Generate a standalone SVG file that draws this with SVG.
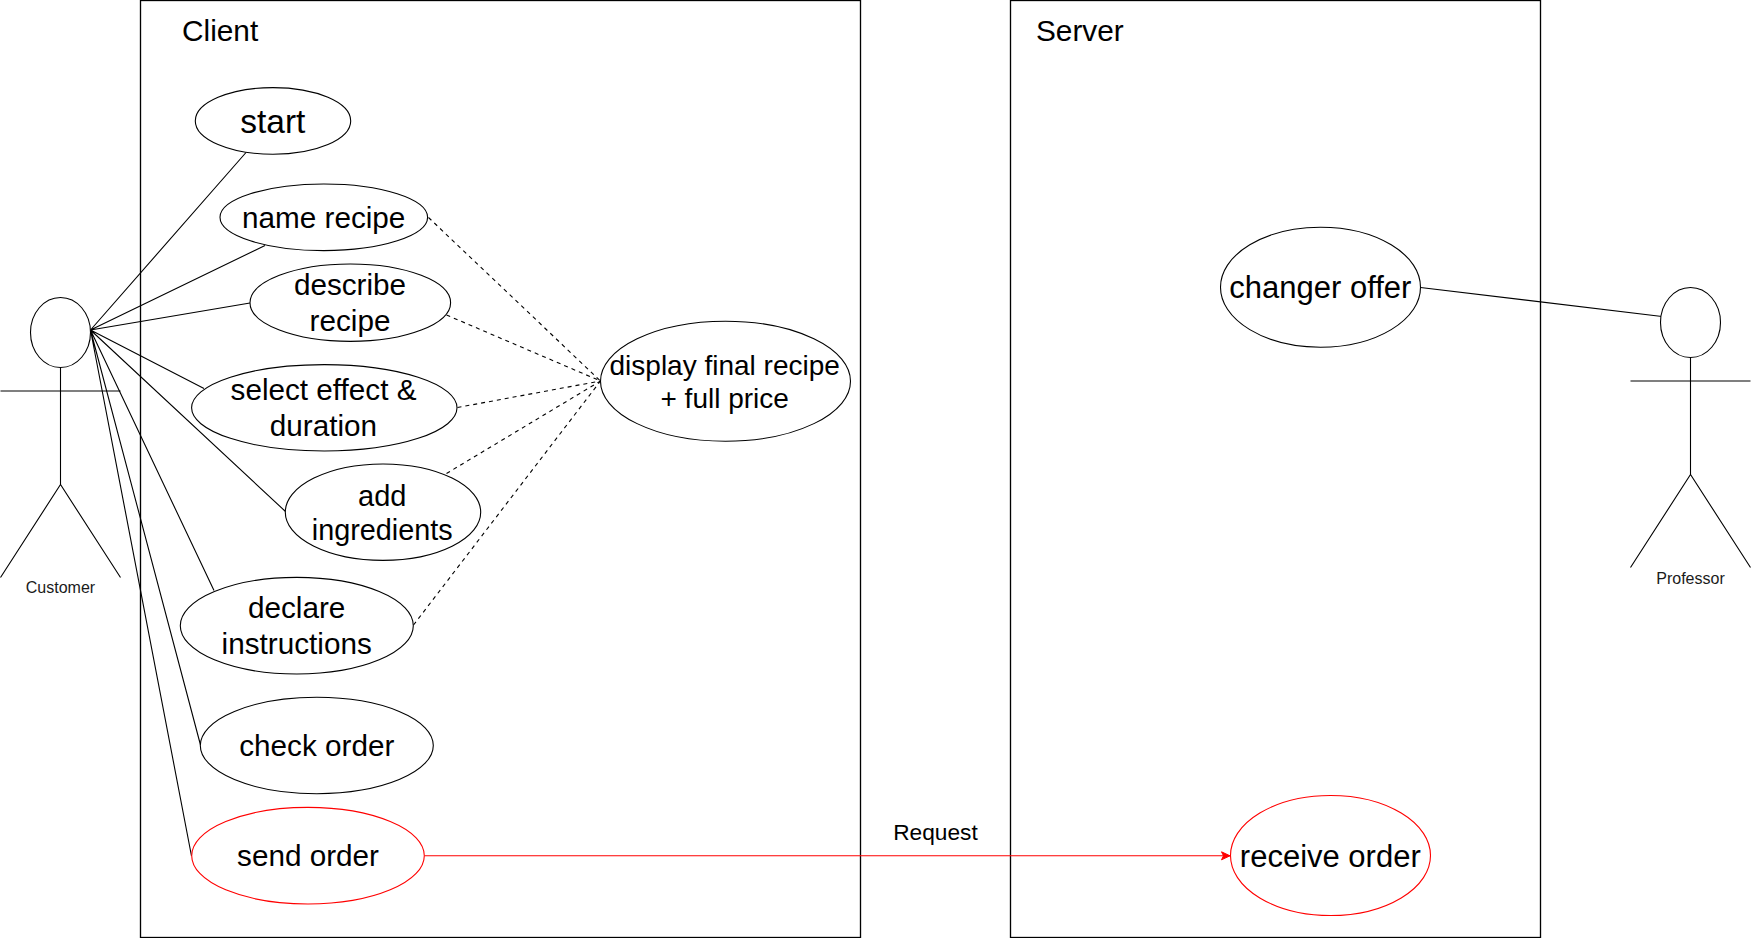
<svg xmlns="http://www.w3.org/2000/svg" width="1751" height="938" viewBox="0 0 1751 938">
<defs>
<style>
text{font-family:"Liberation Sans",Arial,sans-serif;fill:#000;text-anchor:middle}
.box{fill:#fff;stroke:#000;stroke-width:1.33}
.uc{fill:#fff;stroke:#000;stroke-width:1.1}
.red{stroke:#f00}
.actor{fill:none;stroke:#000;stroke-width:1.1}
.l{font-size:29.7px}
.title{font-size:29.8px;text-anchor:start}
.big{font-size:31px}
.small{font-size:16px;fill:#1a1a1a}
.conn{fill:none;stroke:#000;stroke-width:1.1}
.dash{stroke-dasharray:4 4}
.rl{stroke:#f00}
</style>
<marker id="arrow" markerUnits="userSpaceOnUse" markerWidth="10" markerHeight="10" refX="9" refY="5" orient="auto"><path d="M0.5 1 L9 5 L0.5 9 L2.5 5 Z" fill="#f00" stroke="#f00"/></marker>
</defs>
<rect width="1751" height="938" fill="#fff"/>
<g id="client"><rect class="box" x="140.5" y="0.5" width="720" height="937"/><text class="title" x="182" y="41">Client</text></g>
<g id="server"><rect class="box" x="1010.5" y="0.5" width="530" height="937"/><text class="title" x="1036" y="41">Server</text></g>
<g id="connectors">
<path class="conn" d="M90.5 330L246 152.5M90.5 330L265 245.5M90.5 330L250 303M90.5 330L204 388.5M90.5 330L285.5 511.5M90.5 330L214 590.5M90.5 330L200.5 745M90.5 330L191.5 856M1420.5 287.5L1662 316.5"/>
<path class="conn dash" d="M428.5 217.5L600.5 381M446.5 315L600.5 381M457.5 407.5L600.5 381M446.5 473.5L600.5 381M413.5 625L600.5 381"/>
<path class="conn rl" d="M424.5 855.8L1230 855.8" marker-end="url(#arrow)"/>
<text x="935.5" y="840" font-size="22.7">Request</text>
</g>
<g id="customer"><ellipse class="uc" cx="60.5" cy="332.5" rx="30" ry="35"/><path class="actor" d="M60.5 367.5V484.5M0.5 391H120.5M0.5 577.5L60.5 484.5L120.5 577.5"/><text class="small" x="60.5" y="593">Customer</text></g>
<g id="professor"><ellipse class="uc" cx="1690.5" cy="322.5" rx="30" ry="35"/><path class="actor" d="M1690.5 357.5V474.5M1630.5 381H1750.5M1630.5 567.5L1690.5 474.5L1750.5 567.5"/><text class="small" x="1690.5" y="584">Professor</text></g>
<g id="start"><ellipse class="uc" cx="273" cy="120.9" rx="77.7" ry="33.3"/><text x="272.8" y="133" font-size="33.5">start</text></g>
<g id="name-recipe"><ellipse class="uc" cx="323.8" cy="217.3" rx="103.8" ry="33.3"/><text class="l" x="323.7" y="228">name recipe</text></g>
<g id="describe-recipe"><ellipse class="uc" cx="350.3" cy="302.7" rx="100.3" ry="38.7"/><text class="l" x="350" y="294.6">describe</text><text class="l" x="350" y="330.5">recipe</text></g>
<g id="select-effect"><ellipse class="uc" cx="324.3" cy="407.8" rx="132.7" ry="43.2"/><text class="l" x="323.5" y="400">select effect &amp;</text><text class="l" x="323.5" y="436">duration</text></g>
<g id="add-ingredients"><ellipse class="uc" cx="383" cy="512.2" rx="97.7" ry="48.2"/><text x="382.2" y="506.3" font-size="29">add</text><text x="382.2" y="540.3" font-size="28.8">ingredients</text></g>
<g id="declare-instructions"><ellipse class="uc" cx="296.8" cy="625.7" rx="116.5" ry="48.3"/><text class="l" x="296.7" y="618.3">declare</text><text class="l" x="296.7" y="654.3">instructions</text></g>
<g id="check-order"><ellipse class="uc" cx="316.8" cy="745.5" rx="116.5" ry="48.2"/><text class="l" x="316.8" y="756" font-size="30">check order</text></g>
<g id="send-order"><ellipse class="uc red" cx="308" cy="855.7" rx="116.3" ry="48.3"/><text class="l" x="308" y="866">send order</text></g>
<g id="display-final"><ellipse class="uc" cx="725.5" cy="381.2" rx="125" ry="60"/><text x="724.7" y="375" font-size="28">display final recipe</text><text x="724.7" y="408" font-size="28">+ full price</text></g>
<g id="changer-offer"><ellipse class="uc" cx="1320.5" cy="287.2" rx="100" ry="60"/><text class="big" x="1320.4" y="298.3">changer offer</text></g>
<g id="receive-order"><ellipse class="uc red" cx="1330.5" cy="855.5" rx="100" ry="60"/><text class="big" x="1330.3" y="866.7">receive order</text></g>
</svg>
